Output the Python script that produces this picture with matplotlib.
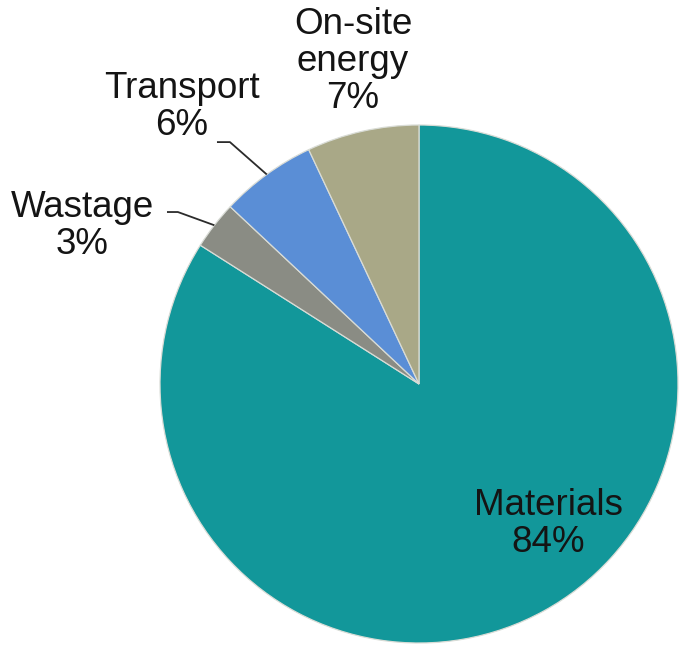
import matplotlib.pyplot as plt
import numpy as np

plt.rcParams["font.family"] = ["Liberation Sans", "DejaVu Sans"]

# Share of embodied carbon by source, clockwise from 12 o'clock
categories = ["Materials", "Wastage", "Transport", "On-site\nenergy"]
shares = [84, 3, 6, 7]
colors = ["#12979A", "#8A8C84", "#5A8ED6", "#A9A887"]

# label block centres (data units, pie radius = 1)
label_pos = {
    "Materials": (0.50, -0.54),
    "Wastage": (-1.30, 0.61),
    "Transport": (-0.915, 1.07),
    "On-site\nenergy": (-0.255, 1.245),
}
# elbow + end of leader lines for the two small outside labels
leaders = {
    "Wastage": [(-0.931, 0.664), (-0.973, 0.664)],
    "Transport": [(-0.730, 0.934), (-0.780, 0.934)],
}

W, H = 687, 653
CX, CY, R = 419, 384, 259

fig = plt.figure(figsize=(W / 100, H / 100), dpi=100)
ax = fig.add_axes([(CX - R) / W, (H - CY - R) / H, 2 * R / W, 2 * R / H])

wedges, _ = ax.pie(
    shares,
    colors=colors,
    startangle=90,
    counterclock=False,
    radius=1.0,
    wedgeprops=dict(edgecolor="#d9dcd6", linewidth=0.9),
)
ax.set_xlim(-1, 1)
ax.set_ylim(-1, 1)
ax.set_aspect("equal")
ax.axis("off")

for w, cat, val in zip(wedges, categories, shares):
    x, y = label_pos[cat]
    ax.text(x, y, f"{cat}\n{val}%", ha="center", va="center",
            fontsize=26.5, color="#141414", linespacing=1.08,
            clip_on=False)
    if cat in leaders:
        mid = np.deg2rad((w.theta1 + w.theta2) / 2)
        pts = [(np.cos(mid), np.sin(mid))] + leaders[cat]
        xs, ys = zip(*pts)
        ax.plot(xs, ys, color="#2b2b2b", lw=1.3, clip_on=False,
                solid_capstyle="butt")

fig.savefig("out.png", dpi=100, facecolor="white")
